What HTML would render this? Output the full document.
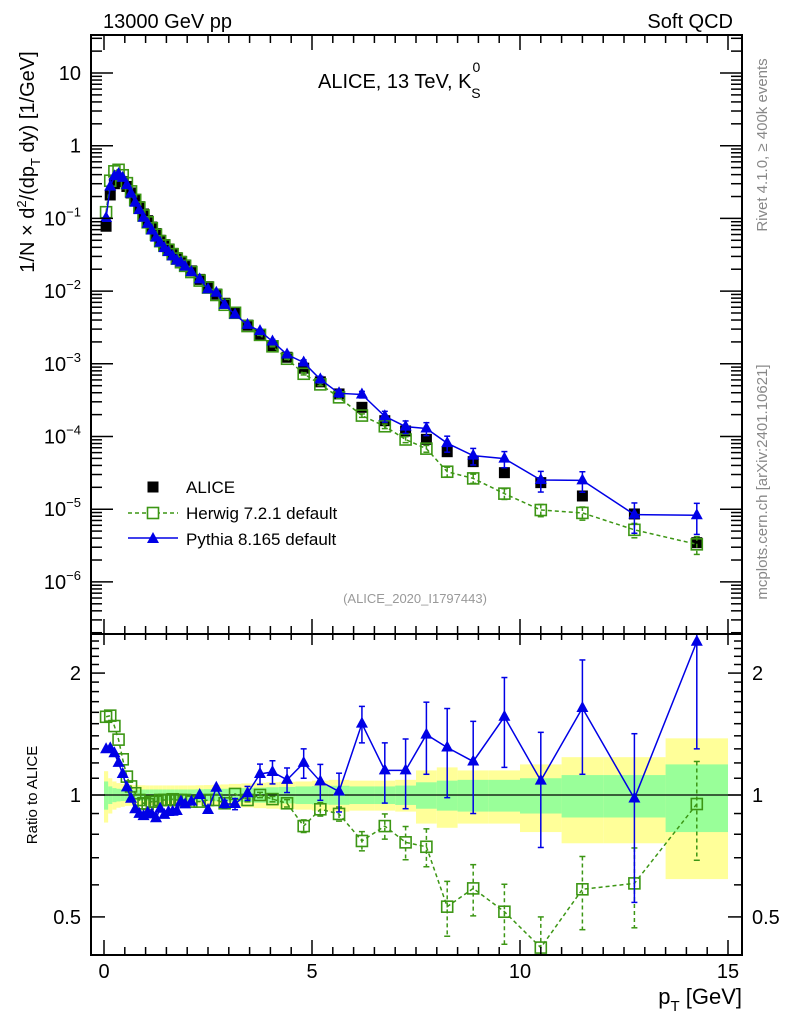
<!DOCTYPE html>
<html><head><meta charset="utf-8"><style>
html,body{margin:0;padding:0;background:#fff}
svg{display:block;font-family:"Liberation Sans",Arial,sans-serif}
</style></head><body>
<svg id="chart" width="786" height="1024" viewBox="0 0 786 1024" xmlns="http://www.w3.org/2000/svg">
<defs>
<clipPath id="cm"><rect x="91" y="35" width="651" height="599"/></clipPath>
<clipPath id="cr"><rect x="91" y="634" width="651" height="321"/></clipPath>
</defs>
<g id="bands" clip-path="url(#cr)"></g>
<line x1="91" y1="795" x2="742" y2="795" stroke="#000" stroke-width="1.2"/>
<g id="series"></g>
<g id="axes"></g>
<rect x="91" y="35" width="651" height="599" fill="none" stroke="#000" stroke-width="2"/>
<rect x="91" y="634" width="651" height="321" fill="none" stroke="#000" stroke-width="2"/>
<text x="103" y="28" font-size="20">13000 GeV pp</text>
<text x="733" y="28" font-size="20" text-anchor="end">Soft QCD</text>
<text x="318" y="88" font-size="20">ALICE, 13 TeV, K<tspan font-size="14" dy="-16" dx="1">0</tspan><tspan font-size="14" dy="26" dx="-9">S</tspan></text>
<text x="415" y="603" font-size="13" fill="#999" text-anchor="middle">(ALICE_2020_I1797443)</text>
<text transform="translate(767,145) rotate(-90)" font-size="15" fill="#888" text-anchor="middle">Rivet 4.1.0, ≥ 400k events</text>
<text transform="translate(767,482) rotate(-90)" font-size="15" fill="#888" text-anchor="middle">mcplots.cern.ch [arXiv:2401.10621]</text>
<text transform="translate(34,162) rotate(-90)" font-size="20" text-anchor="middle">1/N × d<tspan font-size="13" dy="-8">2</tspan><tspan dy="8">/(dp</tspan><tspan font-size="13" dy="6">T</tspan><tspan dy="-6"> dy) [1/GeV]</tspan></text>
<text transform="translate(37,795) rotate(-90)" font-size="15" text-anchor="middle">Ratio to ALICE</text>
<text x="742" y="1004" font-size="22" text-anchor="end">p<tspan font-size="15" dy="7">T</tspan><tspan dy="-7"> [GeV]</tspan></text>
<g>
 <g>
  <rect x="147.5" y="481.5" width="11" height="11" fill="#000"/>
  <text x="186" y="493" font-size="17">ALICE</text>
 </g>
 <g>
  <line x1="128" y1="513" x2="178" y2="513" stroke="#3c9614" stroke-width="1.5" stroke-dasharray="4,3"/>
  <rect x="147.5" y="507.5" width="11" height="11" fill="#fff" stroke="#3c9614" stroke-width="1.6"/>
  <text x="186" y="519" font-size="17">Herwig 7.2.1 default</text>
 </g>
 <g>
  <line x1="128" y1="538" x2="178" y2="538" stroke="#0000e6" stroke-width="1.5"/>
  <polygon points="153,532 159,543 147,543" fill="#0000e6"/>
  <text x="186" y="545" font-size="17">Pythia 8.165 default</text>
 </g>
</g>
</svg>
<script>
const binEdges = [0,0.1,0.2,0.3,0.4,0.5,0.6,0.7,0.8,0.9,1.0,1.1,1.2,1.3,1.4,1.5,1.6,1.7,1.8,1.9,2.0,2.2,2.4,2.6,2.8,3.0,3.3,3.6,3.9,4.2,4.6,5.0,5.4,5.9,6.5,7.0,7.5,8.0,8.5,9.25,10,11,12,13.5,15];
const aliceYield = [0.078,0.21,0.30,0.34,0.32,0.275,0.224,0.178,0.145,0.115,0.093,0.076,0.062,0.050,0.0437,0.038,0.033,0.0288,0.0257,0.0229,0.019,0.0145,0.0115,0.0091,0.0068,0.0050,0.0034,0.0025,0.00178,0.00123,0.00087,0.000565,0.000385,0.000252,0.000165,0.000119,0.0000914,0.0000618,0.0000451,0.0000318,0.0000232,0.0000152,0.0000086,0.00000346];
const aliceTotErr = [0.145,0.10,0.08,0.07,0.065,0.06,0.06,0.058,0.057,0.057,0.056,0.056,0.056,0.056,0.056,0.056,0.056,0.056,0.056,0.056,0.056,0.057,0.058,0.06,0.062,0.065,0.068,0.072,0.075,0.078,0.08,0.085,0.09,0.085,0.085,0.09,0.15,0.17,0.15,0.15,0.19,0.24,0.24,0.38];
const aliceStatErr = [0.08,0.05,0.04,0.036,0.034,0.033,0.032,0.032,0.032,0.032,0.032,0.032,0.032,0.032,0.032,0.032,0.032,0.032,0.032,0.032,0.032,0.033,0.034,0.035,0.036,0.038,0.04,0.043,0.045,0.047,0.05,0.052,0.054,0.05,0.05,0.055,0.075,0.085,0.09,0.09,0.10,0.12,0.12,0.19];
const pythiaRatio = [1.297,1.304,1.268,1.2,1.127,1.044,0.979,0.922,0.898,0.887,0.904,0.896,0.876,0.925,0.893,0.908,0.909,0.913,0.963,0.948,0.963,1.0,0.918,1.042,0.95,0.95,1.01,1.127,1.14,1.09,1.2,1.08,1.02,1.5,1.15,1.15,1.41,1.31,1.21,1.56,1.085,1.64,0.98,2.39];
const pythiaErr = [0,0,0,0,0,0,0,0,0,0,0,0,0,0,0,0,0,0,0,0,0,0,0,0,0.02,0.03,0.04,0.065,0.075,0.076,0.1,0.11,0.112,0.155,0.195,0.225,0.285,0.325,0.31,0.39,0.343,0.515,0.437,1.09];
const herwigRatio = [1.56,1.57,1.48,1.37,1.225,1.11,1.05,1.01,0.972,0.954,0.95,0.963,0.963,0.972,0.972,0.972,0.976,0.972,0.972,0.972,0.963,0.963,0.972,0.972,0.954,1.006,0.972,1.0,0.977,0.954,0.838,0.922,0.898,0.77,0.838,0.764,0.745,0.53,0.588,0.515,0.42,0.585,0.605,0.95];
const herwigErr = [0,0,0,0,0,0,0,0,0,0,0,0,0,0,0,0,0,0,0,0,0,0,0,0,0,0,0.01,0.015,0.015,0.02,0.03,0.035,0.036,0.042,0.06,0.072,0.08,0.082,0.085,0.087,0.08,0.12,0.135,0.26];
const xTicks = [0,5,10,15];
const mainYTicks = [1,0,-1,-2,-3,-4,-5,-6];
const ratioTicks = [0.5,1,2];

const NS="http://www.w3.org/2000/svg";
const X = v => 104 + v*41.6;
const YM = v => 73 - (Math.log10(v)-1)*72.7;
const YR = v => 795 - Math.log10(v)*405;
const GREEN="#3c9614", BLUE="#0000e6";
function mk(tag, attrs, parent){const e=document.createElementNS(NS,tag);for(const k in attrs)e.setAttribute(k,attrs[k]);if(parent)parent.appendChild(e);return e;}
const centers = aliceYield.map((_,i)=>(binEdges[i]+binEdges[i+1])/2);

const bands=document.getElementById('bands');
aliceTotErr.forEach((t,i)=>{
  const r=mk('rect',{x:X(binEdges[i]),width:X(binEdges[i+1])-X(binEdges[i]),y:YR(1+t),height:YR(1-t)-YR(1+t),fill:'#ffff99'},bands);
  
  
});
aliceStatErr.forEach((s,i)=>{
  const r=mk('rect',{x:X(binEdges[i]),width:X(binEdges[i+1])-X(binEdges[i]),y:YR(1+s),height:YR(1-s)-YR(1+s),fill:'#99ff99'},bands);
  
  
});

const ser=document.getElementById('series');
const gm=mk('g',{'clip-path':'url(#cm)'},ser);


const gr=mk('g',{'clip-path':'url(#cr)'},ser);



aliceYield.forEach((v,i)=>{
  const r=mk('rect',{x:X(centers[i])-5.5,y:YM(v)-5.5,width:11,height:11,fill:'#000'},gm);
  
  
});

function drawModel(parent, ratio, err, yfun, isMain, color, dashed, marker, name){
  const vals = ratio.map((r,i)=> isMain ? r*aliceYield[i] : r);
  const pts = vals.map((v,i)=>X(centers[i])+','+yfun(v)).join(' ');
  const pl=mk('polyline',{points:pts,fill:'none',stroke:color,'stroke-width':1.5},parent);
  if(dashed) pl.setAttribute('stroke-dasharray','4,3');
  
  
  vals.forEach((v,i)=>{
    const e = isMain ? err[i]*aliceYield[i] : err[i];
    const x=X(centers[i]);
    if(err[i]>0){
      const y1=yfun(v+e), y2=yfun(Math.max(v-e,1e-9));
      const g=mk('g',{stroke:color,'stroke-width':1.5},parent);
      
      
      const l=mk('line',{x1:x,x2:x,y1:y1,y2:y2},g);
      if(dashed) l.setAttribute('stroke-dasharray','4,3');
      mk('line',{x1:x-3,x2:x+3,y1:y1,y2:y1},g);
      mk('line',{x1:x-3,x2:x+3,y1:y2,y2:y2},g);
    }
    const y=yfun(v);
    let m;
    if(marker==='sq') m=mk('rect',{x:x-5.5,y:y-5.5,width:11,height:11,fill:'none',stroke:color,'stroke-width':1.6},parent);
    else m=mk('polygon',{points:`${x},${y-7} ${x+6},${y+4} ${x-6},${y+4}`,fill:color},parent);
    
    
  });
}
drawModel(gm, herwigRatio, herwigErr, YM, true, GREEN, true, 'sq', 'herwig');
drawModel(gm, pythiaRatio, pythiaErr, YM, true, BLUE, false, 'tri', 'pythia');
drawModel(gr, herwigRatio, herwigErr, YR, false, GREEN, true, 'sq', 'herwig-ratio');
drawModel(gr, pythiaRatio, pythiaErr, YR, false, BLUE, false, 'tri', 'pythia-ratio');

const ax=document.getElementById('axes');
function tick(x1,y1,x2,y2,name){const l=mk('line',{x1,y1,x2,y2,stroke:'#000','stroke-width':1.5},ax);}
function label(x,y,txt,anchor,size,name){const t=mk('text',{x,y,'font-size':size,'text-anchor':anchor},ax);t.textContent=txt;return t;}
for(let v=0; v<=15.001; v+=0.5){
  const x=X(v); const maj = Math.abs(v/5-Math.round(v/5))<1e-6;
  const L = maj?15:8;
  tick(x,955,x,955-L,'x-tick'); tick(x,634,x,634+(maj?11:6),'x-tick');
  tick(x,634,x,634-L,'x-tick'); tick(x,35,x,35+L,'x-tick');
}
xTicks.forEach(v=>label(X(v),978,String(v),'middle',20,'x-tick-label'));
for(let d=-7; d<=1; d++){
  for(let k=1;k<=9;k++){
    const v=k*Math.pow(10,d); const y=YM(v);
    if(y<35||y>634) continue;
    const L = k===1?22:11;
    tick(91,y,91+L,y,'main-y-tick'); tick(742,y,742-L,y,'main-y-tick');
  }
}
mainYTicks.forEach(d=>{
  const y=YM(Math.pow(10,d))+7;
  if(d===1) label(81,y,'10','end',20,'main-y-tick-label');
  else if(d===0) label(81,y,'1','end',20,'main-y-tick-label');
  else {
    const t=mk('text',{x:81,y:y,'font-size':20,'text-anchor':'end'},ax);
    
    
    const a=mk('tspan',{},t); a.textContent='10';
    const b=mk('tspan',{'font-size':13,dy:-9},t); b.textContent='−'+Math.abs(d);
  }
});
for(let v=0.4; v<=2.55; v+=0.1){
  const vv=Math.round(v*10)/10; const y=YR(vv);
  if(y<634||y>955) continue;
  const maj = (vv===0.5||vv===1||vv===2);
  const L = maj?14:8;
  tick(91,y,91+L,y,'ratio-y-tick'); tick(742,y,742-L,y,'ratio-y-tick');
}
ratioTicks.forEach(v=>{
  label(81,YR(v)+7,String(v),'end',20,'ratio-y-tick-label-left');
  label(752,YR(v)+7,String(v),'start',20,'ratio-y-tick-label-right');
});
</script>
</body></html>
